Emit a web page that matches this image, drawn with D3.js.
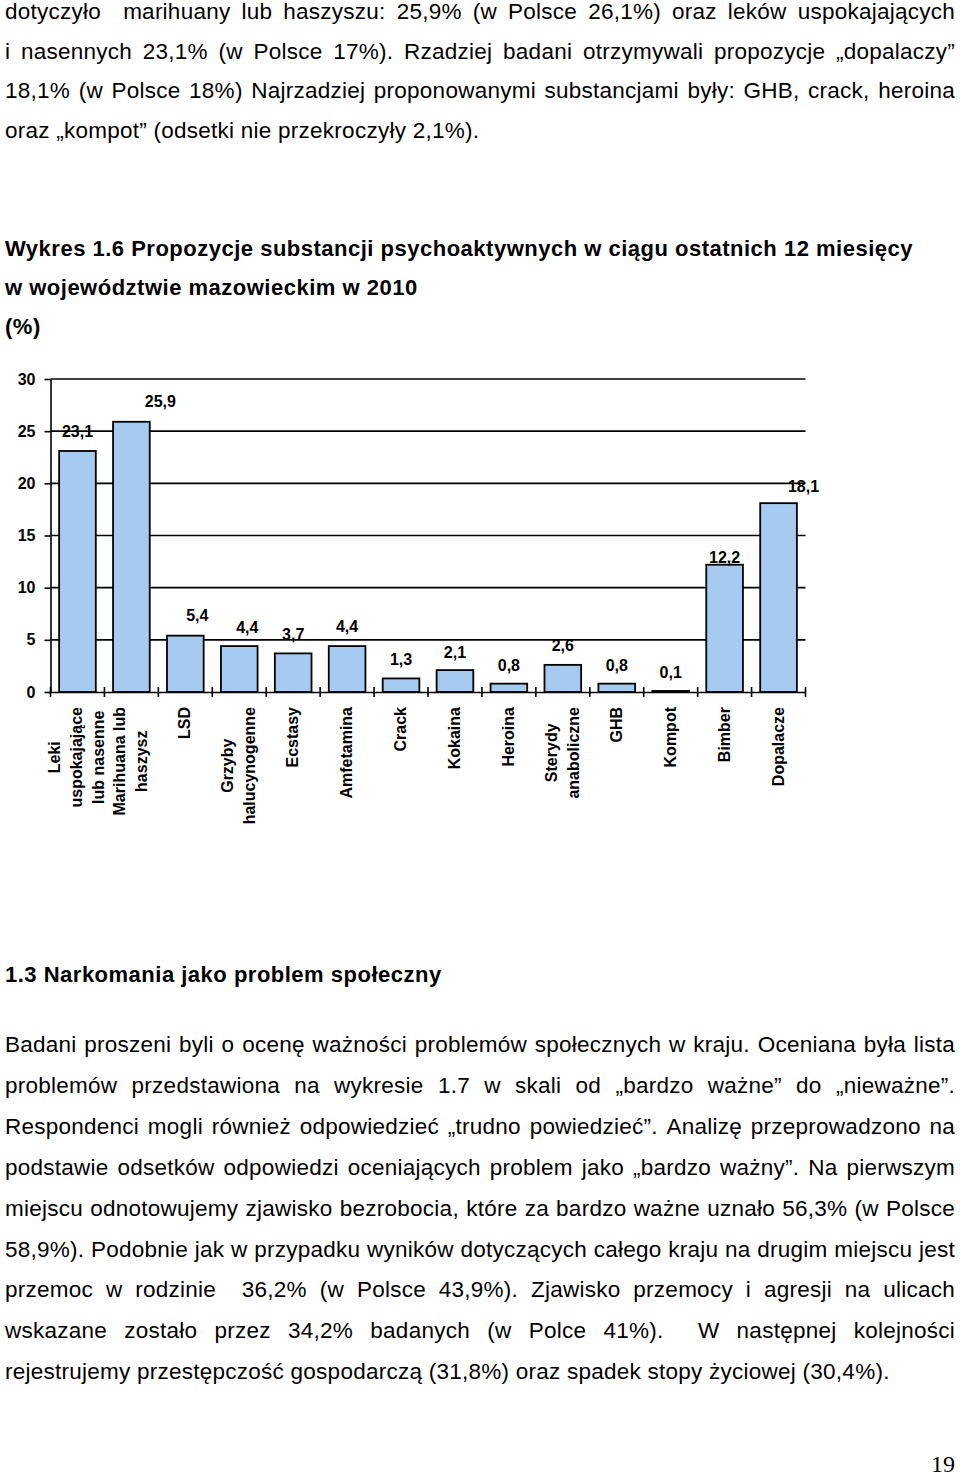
<!DOCTYPE html>
<html><head><meta charset="utf-8">
<script src="https://cdn.jsdelivr.net/npm/d3@7"></script>
<style>body{margin:0;background:#fff} svg{display:block}</style>
</head><body><svg id="page" width="960" height="1480"></svg>
<script>
// ---------- data ----------
const categories = ["Leki\nuspokajające\nlub nasenne", "Marihuana lub\nhaszysz", "LSD", "Grzyby\nhalucynogenne", "Ecstasy", "Amfetamina", "Crack", "Kokaina", "Heroina", "Sterydy\nanaboliczne", "GHB", "Kompot", "Bimber", "Dopalacze"];
const values = [23.1, 25.9, 5.4, 4.4, 3.7, 4.4, 1.3, 2.1, 0.8, 2.6, 0.8, 0.1, 12.2, 18.1];
const yTicks = [0, 5, 10, 15, 20, 25, 30];
// label nudges (px) as placed in the original chart
const labelDx = [0, 29, 12, 8, 0, 0, 0, 0, 0, 0, 0, 0, 0, 25];
const labelDy = [0, -1.3, -1.2, 0.7, 0, 0, 0, 1.7, 0.8, 0.3, 0.8, 0.8, 12, 3];

const introLines = [
  "dotyczyło  marihuany lub haszyszu: 25,9% (w Polsce 26,1%) oraz leków uspokajających",
  "i nasennych 23,1% (w Polsce 17%). Rzadziej badani otrzymywali propozycje „dopalaczy”",
  "18,1% (w Polsce 18%) Najrzadziej proponowanymi substancjami były: GHB, crack, heroina",
  "oraz „kompot” (odsetki nie przekroczyły 2,1%)."
];
const titleLines = [
  "Wykres 1.6 Propozycje substancji psychoaktywnych w ciągu ostatnich 12 miesięcy",
  "w województwie mazowieckim w 2010",
  "(%)"
];
const sectionTitle = "1.3 Narkomania jako problem społeczny";
const sectionLines = [
  "Badani proszeni byli o ocenę ważności problemów społecznych w kraju. Oceniana była lista",
  "problemów przedstawiona na wykresie 1.7 w skali od „bardzo ważne” do „nieważne”.",
  "Respondenci mogli również odpowiedzieć „trudno powiedzieć”. Analizę przeprowadzono na",
  "podstawie odsetków odpowiedzi oceniających problem jako „bardzo ważny”. Na pierwszym",
  "miejscu odnotowujemy zjawisko bezrobocia, które za bardzo ważne uznało 56,3% (w Polsce",
  "58,9%). Podobnie jak w przypadku wyników dotyczących całego kraju na drugim miejscu jest",
  "przemoc w rodzinie  36,2% (w Polsce 43,9%). Zjawisko przemocy i agresji na ulicach",
  "wskazane zostało przez 34,2% badanych (w Polce 41%).  W następnej kolejności",
  "rejestrujemy przestępczość gospodarczą (31,8%) oraz spadek stopy życiowej (30,4%)."
];
const pageNumber = "19";

// ---------- setup ----------
const FONT = "'Liberation Sans', Arial, sans-serif";
const svg = d3.select("#page");
svg.append("rect").attr("width", 960).attr("height", 1480).attr("fill", "#fff");

const meas = svg.append("text").attr("visibility", "hidden").attr("font-family", FONT).style("white-space", "pre");
function textWidth(str, size, weight, ls) {
  meas.attr("font-size", size).attr("font-weight", weight).attr("letter-spacing", ls).text(str);
  return meas.node().getComputedTextLength();
}

function drawLine(str, x0, yb, o) {
  const t = svg.append("text")
    .attr("font-family", FONT).attr("font-size", o.size).attr("font-weight", o.weight)
    .attr("letter-spacing", o.ls).attr("fill", "#000").attr("y", yb)
    .style("white-space", "pre");
  if (!o.justify) { t.attr("x", x0).text(str); return; }
  const tokens = str.split(" ");
  const widths = tokens.map(w => w ? textWidth(w, o.size, o.weight, o.ls) : 0);
  const total = d3.sum(widths);
  const sp = (o.width - total) / (tokens.length - 1);
  let x = x0;
  tokens.forEach((w, i) => {
    if (w) t.append("tspan").attr("x", x).attr("y", yb).text(w);
    x += widths[i] + sp;
  });
}

const bodyStyle = { size: 22.5, weight: "normal", ls: 0.25, width: 950 };
const boldStyle = { size: 22, weight: "bold", ls: 0.5, width: 950 };

introLines.forEach((l, i) => drawLine(l, 5, 19 + i * 39.5, { ...bodyStyle, justify: i < introLines.length - 1 }));
titleLines.forEach((l, i) => drawLine(l, 5, 256 + i * 39, { ...boldStyle, justify: false }));
drawLine(sectionTitle, 5, 982, { ...boldStyle, justify: false });
sectionLines.forEach((l, i) => drawLine(l, 5, 1052 + i * 40.9, { ...bodyStyle, justify: i < sectionLines.length - 1 }));

svg.append("text").attr("x", 955).attr("y", 1472).attr("text-anchor", "end")
  .attr("font-family", "'Liberation Serif', 'Times New Roman', serif").attr("font-size", 24)
  .text(pageNumber);

// ---------- chart ----------
const x = d3.scaleBand().domain(categories).range([50.5, 805.5]).paddingInner(0.32).paddingOuter(0.16);
const y = d3.scaleLinear().domain([0, 30]).range([692, 379]);
const chart = svg.append("g");

chart.append("g").selectAll("line").data(yTicks.filter(d => d > 0)).join("line")
  .attr("x1", 50.5).attr("x2", 805.5).attr("y1", d => y(d)).attr("y2", d => y(d))
  .attr("stroke", "#000").attr("stroke-width", 1.6);

const yAxis = chart.append("g").attr("transform", "translate(50.5,0)")
  .call(d3.axisLeft(y).tickValues(yTicks).tickSize(6).tickSizeOuter(0).tickPadding(9).tickFormat(d => d));
yAxis.select(".domain").attr("stroke", "#000").attr("stroke-width", 1.6);
yAxis.selectAll(".tick line").attr("stroke", "#000").attr("stroke-width", 1.6);
yAxis.selectAll(".tick text").attr("font-family", FONT).attr("font-size", 16).attr("font-weight", "bold").attr("fill", "#000");

chart.append("g").selectAll("rect").data(categories).join("rect")
  .attr("x", c => x(c)).attr("width", x.bandwidth())
  .attr("y", (c, i) => y(values[i])).attr("height", (c, i) => y(0) - y(values[i]))
  .attr("fill", "#A6CAF0").attr("stroke", "#000").attr("stroke-width", 1.8);

const xAxis = chart.append("g").attr("transform", "translate(0,692)")
  .call(d3.axisBottom(x).tickSize(0).tickSizeOuter(0).tickFormat(""));
xAxis.select(".domain").attr("stroke", "#000").attr("stroke-width", 1.6);

const half = (x.step() - x.bandwidth()) / 2;
const bounds = categories.map(c => x(c) - half).concat([x(categories[categories.length - 1]) + x.bandwidth() + half]);
chart.append("g").selectAll("line").data(bounds).join("line")
  .attr("x1", d => d).attr("x2", d => d).attr("y1", 687).attr("y2", 697)
  .attr("stroke", "#000").attr("stroke-width", 1.6);

const fmt = d3.formatLocale({ decimal: ",", thousands: " ", grouping: [3], currency: ["", ""] }).format(".1f");
chart.append("g").selectAll("text").data(categories).join("text")
  .attr("x", (c, i) => x(c) + x.bandwidth() / 2 + labelDx[i])
  .attr("y", (c, i) => y(values[i]) - 13.7 + labelDy[i])
  .attr("text-anchor", "middle").attr("font-family", FONT).attr("font-size", 16).attr("font-weight", "bold")
  .text((c, i) => fmt(values[i]));

// category labels (rotated)
const catG = chart.append("g").selectAll("g").data(categories).join("g")
  .attr("transform", c => `translate(${x(c) + x.bandwidth() / 2},707) rotate(-90)`);
catG.each(function (c) {
  const lines = c.split("\n");
  const maxW = d3.max(lines, l => textWidth(l, 16, "bold", 0));
  const n = lines.length;
  d3.select(this).selectAll("text").data(lines).join("text")
    .attr("x", -maxW / 2)
    .attr("y", (l, i) => 5 + (i - (n - 1) / 2) * 22)
    .attr("text-anchor", "middle").attr("font-family", FONT).attr("font-size", 16).attr("font-weight", "bold")
    .text(l => l);
});
</script>
</body></html>
